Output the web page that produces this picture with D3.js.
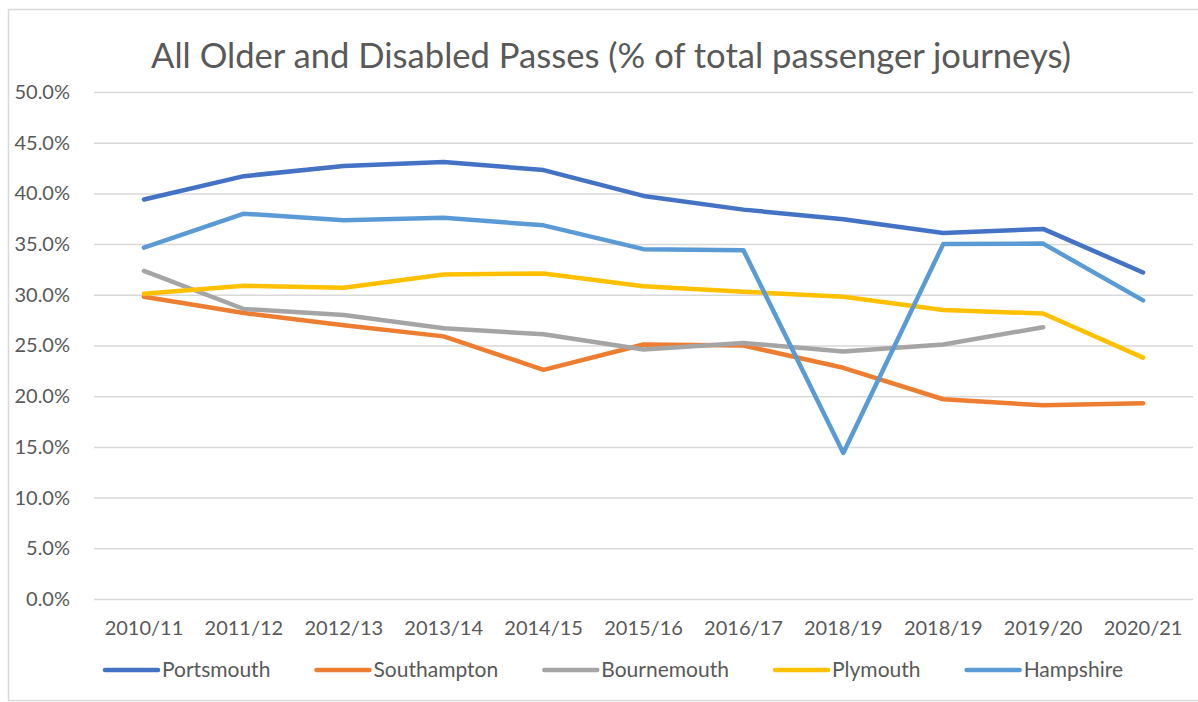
<!DOCTYPE html>
<html>
<head>
<meta charset="utf-8">
<script src="https://cdn.jsdelivr.net/npm/d3@7.9.0/dist/d3.min.js"></script>
<style>
  html, body { margin: 0; padding: 0; background: #fff; }
  svg { display: block; font-family: Lato, 'Open Sans', sans-serif; }
</style>
</head>
<body>
<div id="chart"></div>
<script>
const title = 'All Older and Disabled Passes (% of total passenger journeys)';

const years = ['2010/11', '2011/12', '2012/13', '2013/14', '2014/15', '2015/16',
  '2016/17', '2018/19', '2018/19', '2019/20', '2020/21'];

const portsmouth  = [39.4, 41.7, 42.7, 43.1, 42.3, 39.75, 38.4, 37.45, 36.1, 36.5, 32.2];
const southampton = [29.8, 28.2, 27.0, 25.9, 22.6, 25.1, 25.0, 22.8, 19.7, 19.1, 19.3];
const bournemouth = [32.35, 28.6, 28.0, 26.7, 26.1, 24.6, 25.25, 24.4, 25.1, 26.8, null];
const plymouth    = [30.1, 30.9, 30.7, 32.0, 32.1, 30.85, 30.3, 29.8, 28.5, 28.15, 23.8];
const hampshire   = [34.65, 38.0, 37.35, 37.6, 36.85, 34.5, 34.4, 14.4, 35.0, 35.05, 29.45];

const yTicks = [0, 5, 10, 15, 20, 25, 30, 35, 40, 45, 50];

const series = [
  { name: 'Portsmouth', values: portsmouth, color: '#4472C4' },
  { name: 'Southampton', values: southampton, color: '#ED7D31' },
  { name: 'Bournemouth', values: bournemouth, color: '#A5A5A5' },
  { name: 'Plymouth', values: plymouth, color: '#FFC000' },
  { name: 'Hampshire', values: hampshire, color: '#5B9BD5' },
];

const width = 1198;
const height = 702;
const plot = { left: 94, right: 1193, top: 92, bottom: 599 };
const textColor = '#595959';

const svg = d3.select('#chart').append('svg')
  .attr('width', width)
  .attr('height', height);

// chart border (runs off the right/bottom edge like the source)
svg.append('rect')
  .attr('x', 8.5).attr('y', 9.5)
  .attr('width', 1250).attr('height', 691)
  .attr('fill', 'none')
  .attr('stroke', '#d9d9d9')
  .attr('stroke-width', 1.5);

// title, fitted to the source width
const titleText = svg.append('text')
  .attr('x', 611).attr('y', 68)
  .attr('text-anchor', 'middle')
  .attr('fill', textColor)
  .style('font-size', '32px')
  .text(title);
const tw = titleText.node().getComputedTextLength();
titleText.style('font-size', (32 * 920 / tw).toFixed(2) + 'px');

const idx = d3.range(years.length);
const x = d3.scaleBand().domain(idx).range([plot.left, plot.right]).padding(0);
const cx = (i) => x(i) + x.bandwidth() / 2;

const y = d3.scaleLinear().domain([0, 50]).range([plot.bottom, plot.top]);

// gridlines
svg.append('g')
  .attr('class', 'gridlines')
  .attr('transform', `translate(${plot.left},0)`)
  .call(d3.axisLeft(y).tickValues(yTicks).tickFormat('').tickSize(-(plot.right - plot.left)))
  .call((g) => g.select('.domain').remove())
  .call((g) => g.selectAll('line').attr('stroke', '#d9d9d9').attr('stroke-width', 1.5));

// y axis labels
const yAxis = d3.axisLeft(y).tickValues(yTicks).tickSize(0).tickPadding(24)
  .tickFormat((d) => d.toFixed(1) + '%');
svg.append('g')
  .attr('transform', `translate(${plot.left},0)`)
  .call(yAxis)
  .call((g) => g.select('.domain').remove())
  .call((g) => g.selectAll('text')
    .attr('fill', textColor)
    .style('font-size', '20px')
    .style('font-family', 'Lato, sans-serif'));

// x axis labels
const xAxis = d3.axisBottom(x).tickSize(0).tickPadding(22).tickFormat((i) => years[i]);
svg.append('g')
  .attr('transform', `translate(0,${plot.bottom})`)
  .call(xAxis)
  .call((g) => g.select('.domain').remove())
  .call((g) => g.selectAll('text')
    .attr('fill', textColor)
    .style('font-size', '20px')
    .style('font-family', 'Lato, sans-serif'));

// lines
const line = d3.line()
  .defined((d) => d != null)
  .x((d, i) => cx(i))
  .y((d) => y(d));

svg.append('g')
  .selectAll('path')
  .data(series)
  .join('path')
  .attr('d', (s) => line(s.values))
  .attr('fill', 'none')
  .attr('stroke', (s) => s.color)
  .attr('stroke-width', 4.5)
  .attr('stroke-linecap', 'round')
  .attr('stroke-linejoin', 'round');

// legend: spread the items over the same span as the source
const legend = svg.append('g');
const legendY = 670;
const legendLeft = 103;
const legendRight = 1123;
const entries = series.map((s) => {
  const g = legend.append('g');
  g.append('line')
    .attr('x1', 2).attr('x2', 55)
    .attr('y1', legendY).attr('y2', legendY)
    .attr('stroke', s.color)
    .attr('stroke-width', 4.5)
    .attr('stroke-linecap', 'round');
  const t = g.append('text')
    .attr('x', 59).attr('y', legendY + 7)
    .attr('fill', textColor)
    .style('font-size', '21px')
    .text(s.name);
  return { g, w: 59 + t.node().getComputedTextLength() };
});
const totalW = d3.sum(entries, (e) => e.w);
const gap = (legendRight - legendLeft - totalW) / (entries.length - 1);
let lx = legendLeft;
entries.forEach((e) => {
  e.g.attr('transform', `translate(${lx},0)`);
  lx += e.w + gap;
});
</script>
</body>
</html>
